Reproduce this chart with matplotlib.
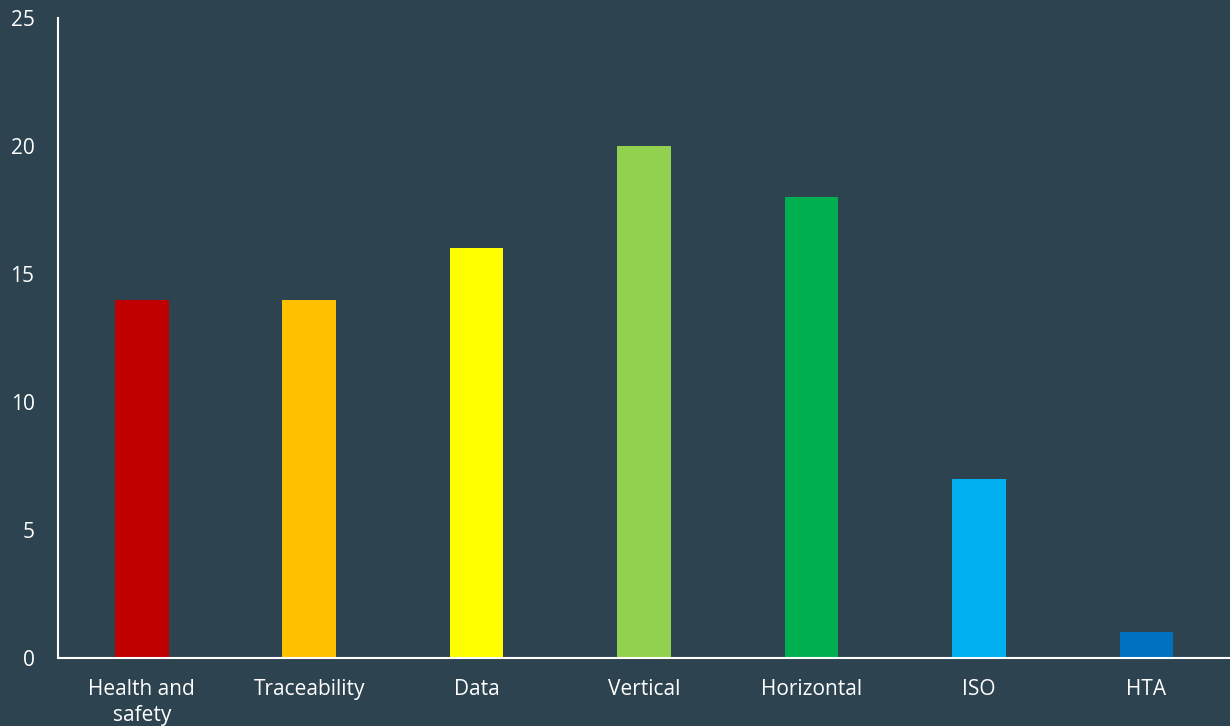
import matplotlib.pyplot as plt

# data
categories = ["Health and\nsafety", "Traceability", "Data", "Vertical", "Horizontal", "ISO", "HTA"]
values = [14, 14, 16, 20, 18, 7, 1]
colors = ["#C00000", "#FFC000", "#FFFF00", "#92D050", "#00B050", "#00B0F0", "#0070C0"]
yticks = [0, 5, 10, 15, 20, 25]

bg = "#2D4350"

fig = plt.figure(figsize=(12.3, 7.26), dpi=100, facecolor=bg)
ax = fig.add_axes([0.0472, 0.0937, 0.9528, 0.8813], facecolor=bg)

x = range(len(categories))
ax.bar(x, values, width=0.32, color=colors)

ax.set_xlim(-0.5, len(categories) - 0.5)
ax.set_ylim(0, 25)
ax.set_yticks(yticks)
ax.set_xticks(list(x))
ax.set_xticklabels(categories)

for s in ["top", "right"]:
    ax.spines[s].set_visible(False)
for s in ["left", "bottom"]:
    ax.spines[s].set_color("white")
    ax.spines[s].set_linewidth(1.5)

ax.tick_params(axis="both", length=0, colors="white", labelsize=15)
ax.tick_params(axis="y", pad=17)
ax.tick_params(axis="x", pad=15)
for lbl in ax.get_xticklabels() + ax.get_yticklabels():
    lbl.set_fontfamily("Open Sans")
for lbl in ax.get_xticklabels():
    lbl.set_linespacing(1.3)

fig.savefig("out.png", dpi=100, facecolor=bg)
